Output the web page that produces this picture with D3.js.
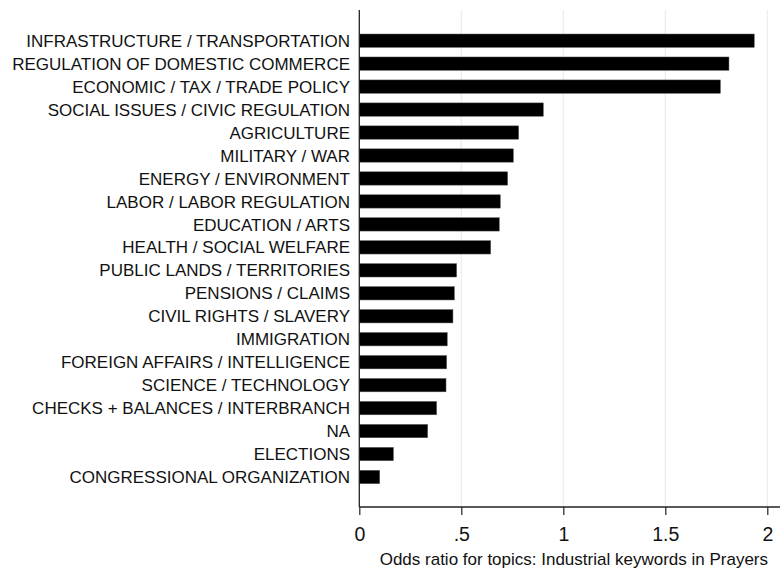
<!DOCTYPE html>
<html><head><meta charset="utf-8">
<script src="https://cdn.jsdelivr.net/npm/d3@7"></script>
<style>body{margin:0;background:#fff;} svg{display:block;}</style>
</head><body><svg id="c" width="780" height="572"></svg>
<script>
const categories = ["INFRASTRUCTURE / TRANSPORTATION","REGULATION OF DOMESTIC COMMERCE","ECONOMIC / TAX / TRADE POLICY","SOCIAL ISSUES / CIVIC REGULATION","AGRICULTURE","MILITARY / WAR","ENERGY / ENVIRONMENT","LABOR / LABOR REGULATION","EDUCATION / ARTS","HEALTH / SOCIAL WELFARE","PUBLIC LANDS / TERRITORIES","PENSIONS / CLAIMS","CIVIL RIGHTS / SLAVERY","IMMIGRATION","FOREIGN AFFAIRS / INTELLIGENCE","SCIENCE / TECHNOLOGY","CHECKS + BALANCES / INTERBRANCH","NA","ELECTIONS","CONGRESSIONAL ORGANIZATION"];
const values = [1.936,1.812,1.770,0.902,0.781,0.755,0.727,0.691,0.686,0.644,0.477,0.466,0.459,0.431,0.428,0.425,0.379,0.335,0.167,0.100];
const tickValues = [0,0.5,1,1.5,2];
const tickLabels = ["0",".5","1","1.5","2"];
const axisTitle = "Odds ratio for topics: Industrial keywords in Prayers";

const svg = d3.select("#c");
const x0 = 359.3, x2 = 767.3;
const x = d3.scaleLinear().domain([0,2]).range([x0,x2]);
const y = d3.scaleBand().domain(categories).range([29.2,488.5]).paddingInner(0.42).paddingOuter(0.21);
const plotTop = 10, plotBottom = 507;
const font = "Liberation Sans, Arial, sans-serif";

// gridlines
svg.append("g").selectAll("line").data(tickValues.slice(1)).join("line")
  .attr("x1",d=>x(d)).attr("x2",d=>x(d)).attr("y1",plotTop).attr("y2",plotBottom)
  .attr("stroke","#e8f0f2").attr("stroke-width",1.3);

// bars
svg.append("g").selectAll("rect").data(values).join("rect")
  .attr("x",x(0)).attr("y",(d,i)=>y(categories[i]))
  .attr("width",d=>x(d)-x(0)).attr("height",y.bandwidth())
  .attr("fill","#000").attr("stroke","#555").attr("stroke-width",0.5);

// y labels
svg.append("g").selectAll("text").data(categories).join("text")
  .attr("x",350).attr("y",d=>y(d)+y.bandwidth()/2).attr("dy","0.36em")
  .attr("text-anchor","end").attr("font-family",font)
  .attr("font-size",17).attr("fill","#111").text(d=>d);

// y axis line
svg.append("line").attr("x1",x0).attr("x2",x0).attr("y1",plotTop).attr("y2",plotBottom)
  .attr("stroke","#222").attr("stroke-width",1.3);

// x axis
const xAxis = d3.axisBottom(x).tickValues(tickValues).tickFormat((d,i)=>tickLabels[i]).tickSize(8).tickPadding(20).tickSizeOuter(0);
const gx = svg.append("g").attr("transform",`translate(0,${plotBottom})`).call(xAxis);
gx.select(".domain").remove();
gx.append("line").attr("x1",x0).attr("x2",780).attr("y1",0).attr("y2",0).attr("stroke","#222").attr("stroke-width",1.3);
gx.selectAll(".tick line").attr("stroke","#222").attr("stroke-width",1.2);
gx.selectAll(".tick text").attr("font-family",font).attr("font-size",19.5).attr("fill","#111").attr("dy","0.71em").attr("y",20);

svg.append("text").attr("x",768).attr("y",565).attr("text-anchor","end")
  .attr("font-family",font).attr("font-size",17).attr("fill","#111").text(axisTitle);
</script></body></html>
